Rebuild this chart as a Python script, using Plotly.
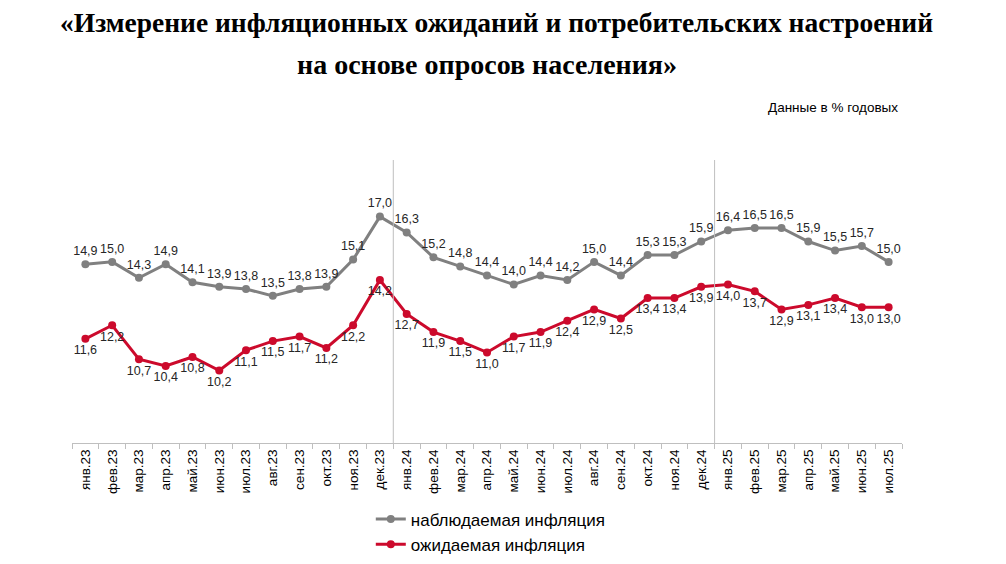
import plotly.graph_objects as go

months = ['янв.23', 'фев.23', 'мар.23', 'апр.23', 'май.23', 'июн.23', 'июл.23', 'авг.23',
          'сен.23', 'окт.23', 'ноя.23', 'дек.23', 'янв.24', 'фев.24', 'мар.24', 'апр.24',
          'май.24', 'июн.24', 'июл.24', 'авг.24', 'сен.24', 'окт.24', 'ноя.24', 'дек.24',
          'янв.25', 'фев.25', 'мар.25', 'апр.25', 'май.25', 'июн.25', 'июл.25']

observed = [14.9, 15.0, 14.3, 14.9, 14.1, 13.9, 13.8, 13.5, 13.8, 13.9, 15.1, 17.0,
            16.3, 15.2, 14.8, 14.4, 14.0, 14.4, 14.2, 15.0, 14.4, 15.3, 15.3, 15.9,
            16.4, 16.5, 16.5, 15.9, 15.5, 15.7, 15.0]

expected = [11.6, 12.2, 10.7, 10.4, 10.8, 10.2, 11.1, 11.5, 11.7, 11.2, 12.2, 14.2,
            12.7, 11.9, 11.5, 11.0, 11.7, 11.9, 12.4, 12.9, 12.5, 13.4, 13.4, 13.9,
            14.0, 13.7, 12.9, 13.1, 13.4, 13.0, 13.0]

# year boundaries (between дек and янв)
year_breaks = [11.5, 23.5]

GRAY = '#808080'
RED = '#CC0A2C'
SANS = 'Arial, Liberation Sans'
SERIF = 'Liberation Serif, Times New Roman'


def fmt(v):
    return f'{v:.1f}'.replace('.', ',')


fig = go.Figure()

fig.add_trace(go.Scatter(
    x=months, y=observed,
    mode='lines+markers+text',
    name='наблюдаемая инфляция',
    line=dict(color=GRAY, width=3),
    marker=dict(color=GRAY, size=8),
    text=[fmt(v) for v in observed],
    textposition='top center',
    textfont=dict(family=SANS, size=12.5, color='#262626'),
    cliponaxis=False,
))

fig.add_trace(go.Scatter(
    x=months, y=expected,
    mode='lines+markers+text',
    name='ожидаемая инфляция',
    line=dict(color=RED, width=3),
    marker=dict(color=RED, size=8),
    text=[fmt(v) for v in expected],
    textposition='bottom center',
    textfont=dict(family=SANS, size=12.5, color='#262626'),
    cliponaxis=False,
))

for xb in year_breaks:
    fig.add_shape(type='line', xref='x', yref='paper', x0=xb, x1=xb, y0=0, y1=1,
                  line=dict(color='#BFBFBF', width=1))

fig.add_annotation(
    text='<b>«Измерение инфляционных ожиданий и потребительских настроений</b>',
    xref='paper', yref='paper', x=0.512, y=1.0, yshift=138,
    showarrow=False, font=dict(family=SERIF, size=27.5, color='#000000'),
    xanchor='center', yanchor='middle'
)
fig.add_annotation(
    text='<b>на основе опросов населения»</b>',
    xref='paper', yref='paper', x=0.512, y=1.0, yshift=96, xshift=-10,
    showarrow=False, font=dict(family=SERIF, size=28, color='#000000'),
    xanchor='center', yanchor='middle'
)
fig.add_annotation(
    text='Данные в % годовых',
    xref='paper', yref='paper', x=0.998, y=1.0, yshift=53,
    showarrow=False, font=dict(family=SANS, size=13.5, color='#000000'),
    xanchor='right', yanchor='middle'
)

fig.update_layout(
    width=1006, height=564,
    margin=dict(l=64, r=112, t=152, b=129),
    paper_bgcolor='white', plot_bgcolor='white',
    showlegend=True,
    legend=dict(
        orientation='v', x=0.36, xanchor='left',
        yref='container', y=0.125, yanchor='top',
        font=dict(family=SANS, size=17, color='#000000'),
        bgcolor='rgba(0,0,0,0)', itemwidth=30,
    ),
    xaxis=dict(
        type='category',
        showline=True, linecolor='#BFBFBF', linewidth=1,
        ticks='outside', tickson='boundaries', ticklen=5, tickcolor='#BFBFBF',
        tickangle=-90,
        tickfont=dict(family=SANS, size=13.5, color='#000000'),
        showgrid=False, zeroline=False, automargin=False,
        range=[-0.5, len(months) - 0.5],
    ),
    yaxis=dict(
        range=[7, 19.5],
        visible=False, showgrid=False, zeroline=False, automargin=False,
    ),
)

fig.write_html('out.html')
